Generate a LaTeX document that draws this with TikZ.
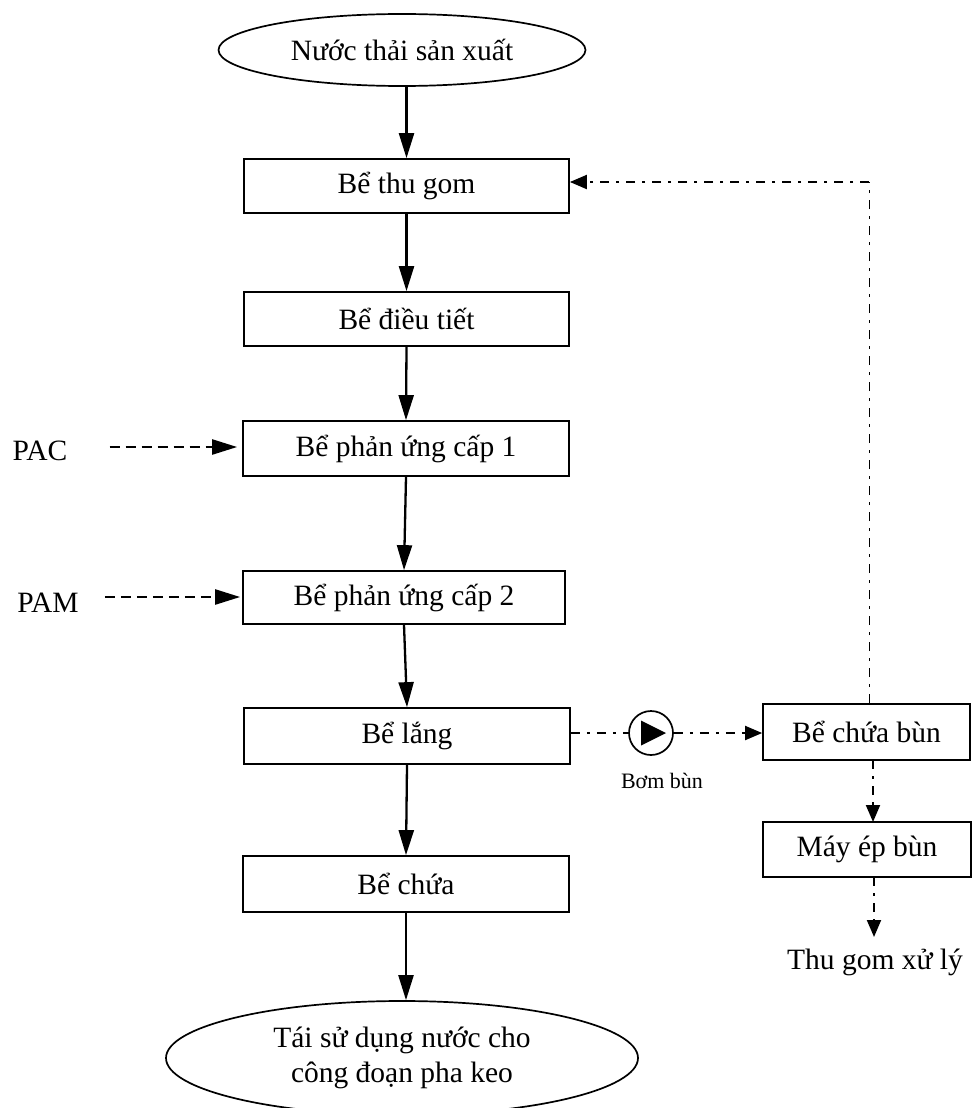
\documentclass[tikz,border=0pt]{standalone}
\usepackage{fontspec}
\setmainfont{Liberation Serif}
\usetikzlibrary{shapes.geometric,arrows.meta}

\tikzset{
  tank/.style={draw, line width=1.7pt, rectangle, inner sep=0pt,
    font=\fontsize{29.5}{35}\selectfont},
  endpoint/.style={draw, line width=1.7pt, ellipse, inner sep=0pt,
    align=center, font=\fontsize{29.5}{35}\selectfont},
  label/.style={inner sep=0pt, font=\fontsize{29.5}{35}\selectfont},
  flow/.style={line width=2.3pt, -{Triangle[length=25pt,width=15pt]}},
  dose/.style={line width=2.3pt, dash pattern=on 10pt off 6pt,
    -{Triangle[length=25pt,width=15pt]}},
  sludge/.style={line width=1.9pt, dash pattern=on 9pt off 7pt on 3pt off 7pt},
  sludgetip/.style={-{Triangle[length=17pt,width=14pt]}},
}

\begin{document}
\begin{tikzpicture}[x=1pt,y=-1pt]
  \useasboundingbox (0,0) rectangle (972,1108);

  % main treatment line
  \node[endpoint, minimum width=367pt, minimum height=72pt] (src) at (402,50) {Nước thải sản xuất};
  \node[tank, minimum width=325pt, minimum height=54pt] (b1) at (406.5,186) {Bể thu gom};
  \node[tank, minimum width=325pt, minimum height=54pt] (b2) at (406.5,319) {Bể điều tiết};
  \node[tank, minimum width=326pt, minimum height=55pt] (b3) at (406,448.5) {Bể phản ứng cấp 1};
  \node[tank, minimum width=322pt, minimum height=53pt] (b4) at (404,597.5) {Bể phản ứng cấp 2};
  \node[tank, minimum width=326pt, minimum height=56pt] (b5) at (407,736) {Bể lắng};
  \node[tank, minimum width=326pt, minimum height=56pt] (b6) at (406,884) {Bể chứa};
  \node[endpoint, minimum width=472pt, minimum height=114pt] (reuse) at (402,1058)
    {Tái sử dụng nước cho\\công đoạn pha keo};

  % chemical dosing
  \node[label] (pac) at (40,451) {PAC};
  \node[label] (pam) at (48,603) {PAM};

  % sludge line
  \node[tank, minimum width=207pt, minimum height=56pt] (st) at (866.5,732) {Bể chứa bùn};
  \node[tank, minimum width=208pt, minimum height=55pt] (press) at (867,849.5) {Máy ép bùn};
  \node[label] (out) at (875,962) {Thu gom xử lý};
  \node[draw, circle, line width=1.7pt, minimum size=44pt, inner sep=0pt] (pump) at (651,733) {};
  \node[inner sep=0pt, font=\fontsize{22}{26}\selectfont] (pumplbl) at (662,781) {Bơm bùn};
  \fill (pump.center) ++(-10,-12.5) -- ++(25,12.5) -- ++(-25,12.5) -- cycle;

  \coordinate (ret) at (869,182);

  % main flow arrows
  \draw[flow] (src.south -| b1.north) -- (b1.north);
  \draw[flow] (b1.south) -- (b2.north);
  \draw[flow] (b2.south) -- (b3.north);
  \draw[flow] (b3.south) -- (b4.north);
  \draw[flow] (b4.south) -- (b5.north);
  \draw[flow] (b5.south) -- (b6.north);
  \draw[flow] (b6.south) -- (reuse.north -| b6.south);

  % dosing arrows
  \draw[dose, shorten >=5pt] (pac.east) ++(42,-4) coordinate (pacs) -- (pacs -| b3.west);
  \draw[dose, shorten >=2pt] (pam.east) ++(26,-6) coordinate (pams) -- (pams -| b4.west);

  % sludge handling
  \draw[sludge] (b5.east |- pump.west) -- (pump.west);
  \draw[sludge, sludgetip] (pump.east) -- (st.west |- pump.east);
  \draw[sludge, line width=1pt] (st.north -| ret) -- (ret);
  \draw[sludge, sludgetip] (ret) -- (ret -| b1.east);
  \draw[sludge, sludgetip] (873,760) -- (873,822);
  \draw[sludge, sludgetip] (874,877) -- (874,937);
\end{tikzpicture}
\end{document}
